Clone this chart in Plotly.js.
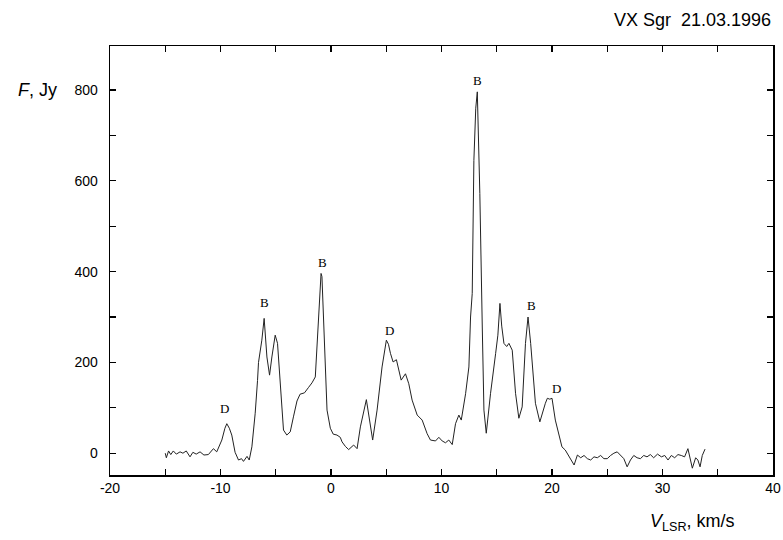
<!DOCTYPE html>
<html>
<head>
<meta charset="utf-8">
<script src="https://cdn.plot.ly/plotly-3.0.1.min.js"></script>
<style>html,body{margin:0;padding:0;background:#fff;}#chart{width:783px;height:540px;}</style>
</head>
<body>
<div id="chart"></div>
<script>
const velocity = [
-15.0,-14.9,-14.7,-14.5,-14.27,-14.0,-13.66,-13.4,-13.1,-12.76,-12.5,-12.2,-11.85,-11.5,-11.1,-10.9,-10.64,-10.34,-10.1,-9.88,
-9.6,-9.43,-9.2,-8.98,-8.68,-8.37,-8.1,-7.92,-7.6,-7.4,-7.16,-6.86,-6.65,-6.56,-6.26,-6.05,-5.8,-5.56,-5.35,-5.05,
-4.84,-4.6,-4.3,-4.0,-3.69,-3.4,-3.08,-2.8,-2.4,-2.03,-1.72,-1.42,-1.21,-0.9,-0.82,-0.6,-0.36,-0.06,0.2,0.54,
0.84,1.0,1.3,1.6,1.85,2.05,2.36,2.66,3.2,3.5,3.77,4.17,4.62,5.01,5.2,5.38,5.62,5.92,6.13,6.35,
6.74,7.04,7.34,7.8,8.25,8.7,9.0,9.46,9.76,10.06,10.36,10.66,10.97,11.27,11.57,11.79,12.18,12.48,12.63,12.78,
12.93,13.1,13.24,13.35,13.47,13.69,13.84,14.05,14.44,14.9,15.1,15.29,15.45,15.65,15.9,16.1,16.4,16.7,17.0,17.3,
17.6,17.83,18.07,18.5,18.9,19.4,19.58,19.8,20.0,20.3,20.6,20.9,21.2,21.6,22.0,22.3,22.6,22.9,23.2,23.5,
23.8,24.1,24.4,24.7,25.0,25.3,25.6,25.9,26.2,26.5,26.8,27.1,27.4,27.7,28.0,28.3,28.6,28.9,29.2,29.55,
29.9,30.2,30.5,30.8,31.1,31.4,31.7,32.0,32.3,32.5,32.7,33.0,33.2,33.4,33.6,33.85
];
const flux = [
0,-10,5,-3,5,-2,3,0,5,-8,2,-2,3,-4,-3,3,10,3,15,29,
55,65,55,40,2,-15,-12,-18,-7,-15,14,88,160,200,249,297,212,172,212,260,
242,161,51,40,47,80,115,130,133,145,155,168,271,396,389,234,95,55,42,40,
35,25,15,8,14,18,10,58,118,73,29,95,190,249,240,220,201,206,183,161,
175,153,117,84,73,43,29,27,35,27,23,29,19,65,84,73,131,190,300,352,
645,760,796,700,572,278,95,44,132,220,260,330,280,242,235,242,227,132,77,102,
242,300,242,110,69,110,121,119,121,73,40,14,7,-10,-26,-4,-10,-5,-12,-15,
-8,-10,-5,-12,-12,-5,0,3,-5,-12,-30,-15,-5,-10,-12,-5,-8,-3,-10,-2,
-8,-5,-15,-5,-10,-3,-5,-8,10,-10,-33,-10,-15,-30,-5,9
];
const xTickVals = [-20,-10,0,10,20,30,40];
const xTickText = ["-20","-10","0","10","20","30","40"];
const yTickVals = [0,200,400,600,800];
const yTickText = ["0","200","400","600","800"];
const labelText = ["D","B","B","D","B","B","D"];
const labelX = [-9.66,-6.04,-0.8,5.3,13.27,18.17,20.4];
const labelY = [99,333,421,271,822,326,143];

const annotations = labelText.map((t,i)=>({
  text:t, x:labelX[i], y:labelY[i], xref:'x', yref:'y', showarrow:false,
  font:{family:'Liberation Serif, Times New Roman, serif', size:13, color:'#000'}
}));
annotations.push({text:'VX Sgr  21.03.1996', xref:'paper', yref:'paper', x:1.0, y:1.0606,
  xanchor:'right', yanchor:'middle', showarrow:false,
  font:{family:'Liberation Sans, Arial, sans-serif', size:18, color:'#000'}});
annotations.push({text:'<i>F</i>, Jy', xref:'paper', yref:'paper', x:-0.1086, y:0.897,
  xanchor:'center', yanchor:'middle', showarrow:false,
  font:{family:'Liberation Sans, Arial, sans-serif', size:18, color:'#000'}});
annotations.push({text:'<i>V</i><sub>LSR</sub>, km/s', xref:'paper', yref:'paper', x:0.878, y:-0.11,
  xanchor:'center', yanchor:'middle', showarrow:false,
  font:{family:'Liberation Sans, Arial, sans-serif', size:18, color:'#000'}});

const trace = {x:velocity, y:flux, type:'scatter', mode:'lines',
  line:{color:'#222', width:1}, hoverinfo:'skip'};

const axisCommon = {showline:true, linecolor:'#000', linewidth:1.5, mirror:'ticks',
  ticks:'inside', ticklen:6, tickwidth:1.2, tickcolor:'#000', showgrid:false, zeroline:false,
  tickmode:'array',
  tickfont:{family:'Liberation Sans, Arial, sans-serif', size:14, color:'#000'}};

const layout = {
  width:783, height:540, margin:{l:110, r:10, t:46, b:65},
  paper_bgcolor:'#fff', plot_bgcolor:'#fff', showlegend:false,
  xaxis:Object.assign({}, axisCommon, {range:[-20,40], tickvals:xTickVals, ticktext:xTickText,
    minor:{tickmode:'linear', tick0:-20, dtick:5, ticks:'inside', ticklen:6, tickwidth:1.2, tickcolor:'#000'}}),
  yaxis:Object.assign({}, axisCommon, {range:[-48,897], tickvals:yTickVals,
    ticktext:yTickText.map(t=>t+'&nbsp;&nbsp;'),
    minor:{tickmode:'linear', tick0:0, dtick:100, ticks:'inside', ticklen:6, tickwidth:1.2, tickcolor:'#000'}}),
  annotations:annotations
};
Plotly.newPlot('chart',[trace],layout,{staticPlot:true});
</script>
</body>
</html>
